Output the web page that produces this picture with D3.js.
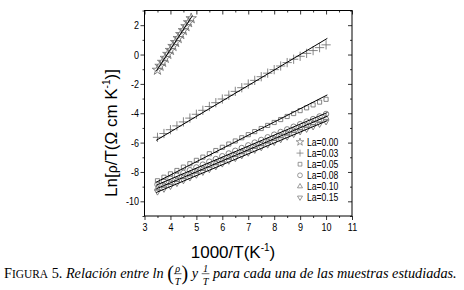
<!DOCTYPE html>
<html>
<head>
<meta charset="utf-8">
<script src="https://cdn.jsdelivr.net/npm/d3@7"></script>
<style>
body { margin: 0; background: #fff; }
svg { display: block; }
</style>
</head>
<body>
<div id="chart"></div>
<script>
// x = 1000/T (K^-1)
const xSteep = [3.5, 3.6, 3.7, 3.8, 3.9, 4.0, 4.1, 4.2, 4.3, 4.4, 4.5, 4.6, 4.7, 4.8];
const xTemp = [3.5, 3.75, 4.0, 4.25, 4.5, 4.75, 5.0, 5.25, 5.5, 5.75, 6.0, 6.25, 6.5, 6.75,
    7.0, 7.25, 7.5, 7.75, 8.0, 8.25, 8.5, 8.75, 9.0, 9.25, 9.5, 9.75, 10.0];

const seriesNames = ["La=0.00", "La=0.03", "La=0.05", "La=0.08", "La=0.10", "La=0.15"];

// Ln[rho/T]
const yLa000 = [-1.05, -0.78, -0.51, -0.24, 0.03, 0.30, 0.57, 0.84, 1.11, 1.38, 1.65, 1.92, 2.19, 2.46];
const yLa003 = [-5.64, -5.38, -5.12, -4.86, -4.59, -4.33, -4.07, -3.80, -3.54, -3.28, -3.03, -2.77, -2.51, -2.26,
    -2.01, -1.76, -1.51, -1.27, -1.03, -0.78, -0.55, -0.32, -0.12, 0.08, 0.27, 0.47, 0.66];
const yLa005 = [-8.60, -8.36, -8.13, -7.90, -7.67, -7.44, -7.21, -6.99, -6.76, -6.54, -6.32, -6.10, -5.89, -5.67,
    -5.46, -5.25, -5.04, -4.83, -4.63, -4.43, -4.22, -4.02, -3.82, -3.63, -3.43, -3.24, -3.05];
const yLa008 = [-8.85, -8.65, -8.46, -8.26, -8.07, -7.88, -7.69, -7.50, -7.30, -7.12, -6.93, -6.74, -6.56, -6.37,
    -6.19, -6.00, -5.82, -5.64, -5.46, -5.28, -5.10, -4.92, -4.75, -4.57, -4.40, -4.22, -4.05];
const yLa010 = [-9.10, -8.90, -8.71, -8.51, -8.32, -8.13, -7.94, -7.75, -7.55, -7.37, -7.18, -6.99, -6.81, -6.62,
    -6.44, -6.25, -6.07, -5.89, -5.71, -5.53, -5.35, -5.17, -5.00, -4.82, -4.65, -4.47, -4.30];
const yLa015 = [-9.35, -9.16, -8.97, -8.77, -8.58, -8.39, -8.20, -8.01, -7.82, -7.63, -7.44, -7.25, -7.07, -6.88,
    -6.70, -6.51, -6.33, -6.15, -5.97, -5.79, -5.61, -5.43, -5.25, -5.08, -4.91, -4.74, -4.57];

// linear fits: y = intercept + slope * x, drawn between fitFrom and fitTo
const fitSlope = [2.714, 1.053, 0.9015, 0.75, 0.75, 0.742];
const fitIntercept = [-10.51, -9.48, -11.81, -11.49, -11.74, -11.96];
const fitFrom = [3.45, 3.45, 3.45, 3.45, 3.45, 3.45];
const fitTo = [4.85, 10.05, 10.05, 10.05, 10.05, 10.05];

const xTicks = [3, 4, 5, 6, 7, 8, 9, 10, 11];
const xMinor = [3.5, 4.5, 5.5, 6.5, 7.5, 8.5, 9.5, 10.5];
const yTicks = [-10, -8, -6, -4, -2, 0, 2];
const yMinor = [-11, -9, -7, -5, -3, -1, 1, 3];

const W = 464, H = 290;
const plotL = 144.5, plotR = 352, plotT = 10.5, plotB = 216;
const narrow = 0.82; // the original lettering is a condensed sans

const svg = d3.select("#chart").append("svg")
    .attr("width", W).attr("height", H)
    .style("font-family", "'Liberation Sans', Arial, sans-serif");

const x = d3.scaleLinear().domain([3, 11]).range([plotL, plotR]);
const y = d3.scaleLinear().domain([-11, 3]).range([plotB, plotT]);

const xVals = [xSteep, xTemp, xTemp, xTemp, xTemp, xTemp];
const yVals = [yLa000, yLa003, yLa005, yLa008, yLa010, yLa015];
const series = seriesNames.map((name, i) => ({
    name,
    points: xVals[i].map((xv, j) => ({ x: xv, y: yVals[i][j] })),
    slope: fitSlope[i], intercept: fitIntercept[i], from: fitFrom[i], to: fitTo[i]
}));

const symbols = [d3.symbolStar, d3.symbolPlus, d3.symbolSquare2, d3.symbolCircle, d3.symbolTriangle2, d3.symbolTriangle2];
const rotations = [0, 0, 0, 0, 0, 180];
const sizes = [34, 30, 22, 24, 24, 24];
const markGray = "#707070";

// axes
function styleAxis(g) {
    g.select(".domain").remove();
    g.selectAll("line").attr("stroke", "#000").attr("stroke-width", 0.8);
    g.selectAll("text").attr("fill", "#000").style("font-size", "11px");
}

svg.append("g").attr("transform", `translate(0,${plotB})`)
    .call(d3.axisBottom(x).tickValues(xTicks).tickSize(4).tickPadding(3).tickFormat(d3.format("d")))
    .call(styleAxis)
    .selectAll("text").attr("transform", `scale(${narrow},1)`)
    .attr("x", 0);
svg.append("g").attr("transform", `translate(0,${plotB})`)
    .call(d3.axisBottom(x).tickValues(xMinor).tickSize(2).tickFormat(""))
    .call(styleAxis);
svg.append("g").attr("transform", `translate(${plotL},0)`)
    .call(d3.axisLeft(y).tickValues(yTicks).tickSize(4).tickPadding(1).tickFormat(d => d < 0 ? "-" + Math.abs(d) : d))
    .call(styleAxis)
    .selectAll("text")
    .attr("x", -5.5 / narrow)
    .attr("transform", `scale(${narrow},1)`);
svg.append("g").attr("transform", `translate(${plotL},0)`)
    .call(d3.axisLeft(y).tickValues(yMinor).tickSize(2).tickFormat(""))
    .call(styleAxis);
// top and right: ticks pointing in
svg.append("g").attr("transform", `translate(0,${plotT})`)
    .call(d3.axisBottom(x).tickValues(xTicks).tickSize(4).tickFormat(""))
    .call(styleAxis);
svg.append("g").attr("transform", `translate(0,${plotT})`)
    .call(d3.axisBottom(x).tickValues(xMinor).tickSize(2).tickFormat(""))
    .call(styleAxis);
svg.append("g").attr("transform", `translate(${plotR},0)`)
    .call(d3.axisLeft(y).tickValues(yTicks).tickSize(4).tickFormat(""))
    .call(styleAxis);
svg.append("g").attr("transform", `translate(${plotR},0)`)
    .call(d3.axisLeft(y).tickValues(yMinor).tickSize(2).tickFormat(""))
    .call(styleAxis);

svg.append("rect")
    .attr("x", plotL).attr("y", plotT)
    .attr("width", plotR - plotL).attr("height", plotB - plotT)
    .attr("fill", "none").attr("stroke", "#000").attr("stroke-width", 1);

// markers
series.forEach((s, i) => {
    const sym = d3.symbol().type(symbols[i]).size(sizes[i]);
    svg.append("g").selectAll("path")
        .data(s.points)
        .join("path")
        .attr("d", sym)
        .attr("transform", d => `translate(${x(d.x)},${y(d.y)}) rotate(${rotations[i]})`)
        .attr("fill", "none")
        .attr("stroke", markGray)
        .attr("stroke-width", 0.85);
});

// fit lines
const line = d3.line().x(d => x(d[0])).y(d => y(d[1]));
series.forEach(s => {
    svg.append("path")
        .attr("d", line([[s.from, s.intercept + s.slope * s.from], [s.to, s.intercept + s.slope * s.to]]))
        .attr("fill", "none")
        .attr("stroke", "#000")
        .attr("stroke-width", 1);
});

// legend
const legend = svg.append("g").attr("transform", "translate(300,142)");
seriesNames.forEach((name, i) => {
    const row = legend.append("g").attr("transform", `translate(0,${i * 11.1})`);
    row.append("path")
        .attr("d", d3.symbol().type(symbols[i]).size(18))
        .attr("transform", `rotate(${rotations[i]})`)
        .attr("fill", "none")
        .attr("stroke", markGray)
        .attr("stroke-width", 0.7);
    row.append("text")
        .attr("x", 7 / narrow).attr("dy", "0.36em")
        .attr("transform", `scale(${narrow},1)`)
        .style("font-size", "10.5px")
        .text(name);
});

// axis titles
const xTitle = svg.append("text")
    .attr("x", 233).attr("y", 258)
    .attr("text-anchor", "middle")
    .style("font-size", "17px");
xTitle.append("tspan").text("1000/T(K");
xTitle.append("tspan").attr("dy", -7).style("font-size", "10px").text("-1");
xTitle.append("tspan").attr("dy", 7).text(")");

const yTitle = svg.append("text")
    .attr("transform", "translate(117,133) rotate(-90)")
    .attr("text-anchor", "middle")
    .style("font-size", "17px");
yTitle.append("tspan").text("Ln[");
yTitle.append("tspan").style("font-size", "14px").text("ρ");
yTitle.append("tspan").text("/T(Ω cm K");
yTitle.append("tspan").attr("dy", -7).style("font-size", "10px").text("-1");
yTitle.append("tspan").attr("dy", 7).text(")]");

// caption
const cap = svg.append("g").style("font-family", "'Liberation Serif', 'DejaVu Serif', serif");
function layoutCaption(fs) {
    cap.selectAll("*").remove();
    let cx = 0;
    const base = 0;
    function put(str, opt = {}) {
        const t = cap.append("text")
            .attr("x", cx).attr("y", base + (opt.dy || 0))
            .style("font-size", (opt.size || fs) + "px")
            .style("font-style", opt.italic ? "italic" : "normal")
            .style("white-space", "pre")
            .text(str);
        const w = t.node().getComputedTextLength();
        cx += w;
        return w;
    }
    function frac(num, den) {
        const s = fs * 0.72;
        const x0 = cx;
        const tn = cap.append("text").attr("y", base - fs * 0.42).style("font-size", s + "px").style("font-style", "italic").text(num);
        const td = cap.append("text").attr("y", base + fs * 0.52).style("font-size", s + "px").style("font-style", "italic").text(den);
        const wn = tn.node().getComputedTextLength(), wd = td.node().getComputedTextLength();
        const w = Math.max(wn, wd) + 2;
        tn.attr("x", x0 + (w - wn) / 2);
        td.attr("x", x0 + (w - wd) / 2);
        cap.append("line")
            .attr("x1", x0).attr("x2", x0 + w)
            .attr("y1", base - fs * 0.3).attr("y2", base - fs * 0.3)
            .attr("stroke", "#000").attr("stroke-width", 0.6);
        cx += w;
    }
    put("F");
    put("IGURA", { size: fs * 0.8 });
    put(" 5. ");
    put("Relación entre ln ", { italic: true });
    put("(", { size: fs * 1.4, dy: fs * 0.14 });
    frac("ρ", "T");
    put(")", { size: fs * 1.4, dy: fs * 0.14 });
    put(" y ", { italic: true });
    frac("1", "T");
    put(" para cada una de las muestras estudiadas.", { italic: true });
    return cx;
}
const w0 = layoutCaption(12);
const fsFit = 12 * 454 / w0;
layoutCaption(fsFit);
cap.attr("transform", "translate(4,278)");
</script>
</body>
</html>
